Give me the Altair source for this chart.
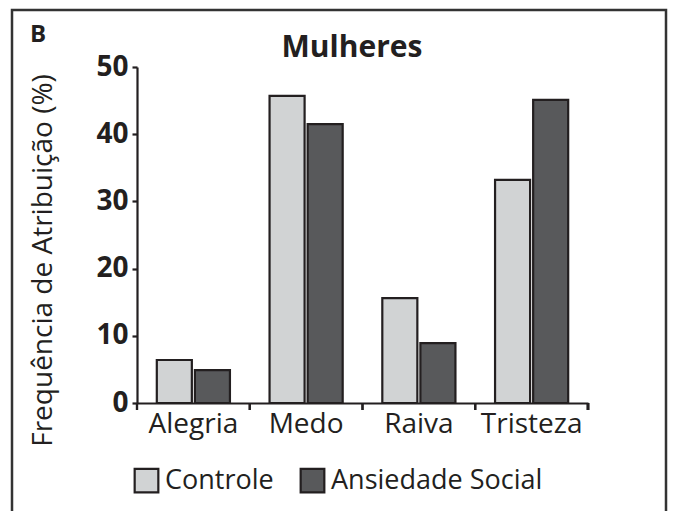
import altair as alt
import pandas as pd

categories = ["Alegria", "Medo", "Raiva", "Tristeza"]
groups = ["Controle", "Ansiedade Social"]
controle = [6.4, 45.7, 15.6, 33.2]
ansiedade = [4.9, 41.5, 8.9, 45.1]
y_ticks = [0, 10, 20, 30, 40, 50]

rows = []
for c, a, b in zip(categories, controle, ansiedade):
    rows.append({"emo": c, "grupo": groups[0], "val": a})
    rows.append({"emo": c, "grupo": groups[1], "val": b})
df = pd.DataFrame(rows)

FONT = "Open Sans"
W, H = 451, 336
INK = "#231f20"

xscale = alt.Scale(domain=categories, paddingInner=0, paddingOuter=0)

bars = alt.Chart(df).mark_bar(stroke=INK, strokeWidth=2.2).encode(
    x=alt.X("emo:N", scale=xscale, sort=categories,
            axis=alt.Axis(title=None, labelAngle=0, ticks=False, domainColor=INK,
                          domainWidth=2.2, labelFont=FONT, labelFontSize=28,
                          labelColor=INK, labelPadding=7)),
    xOffset=alt.XOffset("grupo:N", sort=groups,
                        scale=alt.Scale(domain=groups, paddingInner=0.08, paddingOuter=0.52)),
    y=alt.Y("val:Q", scale=alt.Scale(domain=[0, 50], nice=False),
            axis=alt.Axis(title="Frequência de Atribuição (%)", values=y_ticks, grid=False,
                          domainColor=INK, domainWidth=2.2, tickColor=INK, tickWidth=2.2,
                          tickSize=5, labelFont=FONT, labelFontSize=28, labelFontWeight="bold",
                          labelColor=INK, labelPadding=4, titleFont=FONT, titleFontSize=28,
                          titleFontWeight="normal", titleColor=INK, titleAngle=-90,
                          titleX=-86, titleY=193, titleAlign="center",
                          titleBaseline="alphabetic")),
    fill=alt.Fill("grupo:N", sort=groups,
                  scale=alt.Scale(domain=groups, range=["#d1d3d4", "#58595b"]),
                  legend=alt.Legend(title=None, orient="none", legendX=-4, legendY=400,
                                    direction="horizontal", symbolType="square",
                                    symbolSize=560, symbolStrokeColor=INK,
                                    symbolStrokeWidth=2.2, labelFont=FONT, labelFontSize=27,
                                    labelColor=INK, labelOffset=5, columnPadding=22,
                                    labelLimit=500, padding=0, symbolOpacity=1)),
)

ticks = alt.Chart(df).mark_rule(color=INK, strokeWidth=2.2).encode(
    x=alt.X("emo:N", scale=xscale, sort=categories, bandPosition=0),
    y=alt.value(H), y2=alt.value(H + 7))

end_tick = alt.Chart(df).mark_rule(color=INK, strokeWidth=2.2).encode(
    x=alt.value(W), y=alt.value(H), y2=alt.value(H + 7))

title = alt.Chart(pd.DataFrame({"t": ["Mulheres"]})).mark_text(
    font=FONT, fontSize=30, fontWeight="bold", color=INK, align="center",
    baseline="alphabetic").encode(text="t:N", x=alt.value(215), y=alt.value(-10))

panel = alt.Chart(pd.DataFrame({"t": ["B"]})).mark_text(
    font=FONT, fontSize=24, fontWeight="bold", color=INK, align="left",
    baseline="alphabetic").encode(text="t:N", x=alt.value(-107), y=alt.value(-25))

border = alt.Chart(pd.DataFrame({"t": [0]})).mark_rect(
    fill=None, stroke="#333333", strokeWidth=2.5).encode(
    x=alt.value(-125), x2=alt.value(529), y=alt.value(-57), y2=alt.value(450))

chart = alt.layer(bars, ticks, end_tick, title, panel, border).properties(
    width=W, height=H,
    autosize=alt.AutoSizeParams(type="none"),
    padding={"left": 129, "top": 59, "right": 81, "bottom": 108},
).configure_view(stroke=None)

chart.save("out.html", embed_options={"renderer": "svg", "actions": False})
